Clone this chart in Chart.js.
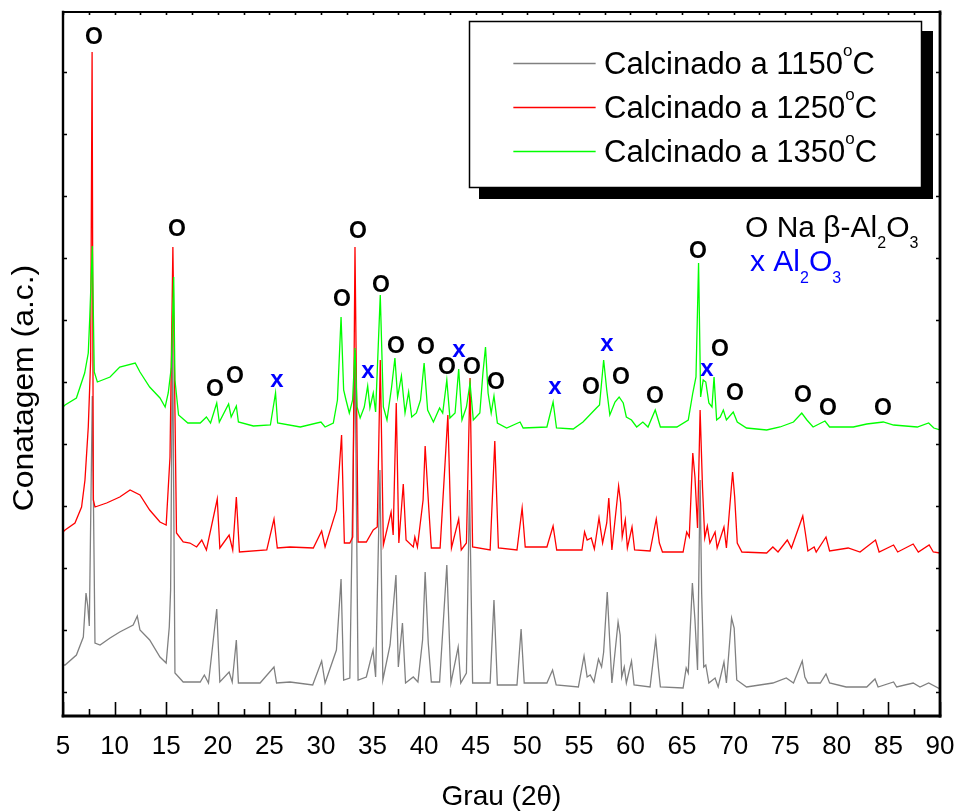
<!DOCTYPE html>
<html>
<head>
<meta charset="utf-8">
<title>DRX - Na beta-Al2O3</title>
<script src="https://cdn.jsdelivr.net/npm/chart.js@4.4.1/dist/chart.umd.min.js"></script>
<style>
  html, body { margin: 0; padding: 0; background: #fff; }
  canvas { display: block; }
</style>
</head>
<body>
<canvas id="xrd" width="957" height="811"></canvas>
<script>
const temps = ['1150', '1250', '1350'];
const colors = ['#808080', '#ff0000', '#00ff00'];

const gray1150 = [
  [5.0,51],[5.2,51],[6.3,61],[6.97,79],[7.23,123],[7.4,110],[7.55,90],[7.84,320],[8.1,73],[8.59,71],
  [9.56,78],[10.5,84],[11.8,91],[12.2,100],[12.46,86],[13.4,76],[14.4,59],[15.0,53],[15.3,89],[15.43,126],
  [15.62,386],[15.85,43],[16.65,34],
  [17.0,34],[18.3,34],[18.7,41],[19.1,33],[19.9,107],[20.2,34],[21.1,44],[21.4,34],[21.8,76],[22.0,33],
  [24.1,33],[25.45,49],[25.7,33],[27.0,34],[29.2,31],[30.07,55],[30.4,33],[31.5,66],[31.95,137],[32.2,36],
  [32.8,38],[33.3,366],[33.6,36],[34.4,39],[35.05,66],[35.3,39],[35.72,246],[36.0,36],[36.7,71],[37.27,141],
  [37.5,49],[37.9,93],[38.2,33],[38.95,39],[39.4,34],[39.85,76],[40.1,144],[40.4,73],[40.7,34],[41.5,34],
  [42.2,151],[42.6,33],[43.3,69],[43.55,33],[44.1,43],[44.4,226],[44.7,33],[46.4,33],[46.77,116],[47.1,31],
  [49.0,31],[49.4,87],[49.7,33],[51.9,33],[52.45,46],[52.8,31],[54.95,29],[55.5,60],[55.8,39],[56.1,41],
  [56.46,34],[56.9,57],[57.2,49],[57.4,64],[57.75,124],[57.95,83],[58.2,33],[58.8,94],[59.0,81],[59.15,39],
  [59.4,49],[59.6,33],[60.1,55],[60.35,31],[61.9,29],[62.45,77],[62.7,49],[62.9,29],[65.1,28],[65.4,48],
  [65.6,43],[66.0,133],[66.25,96],[66.5,46],[66.75,236],[66.9,123],[67.1,49],[67.3,51],[67.6,33],[68.2,38],
  [68.5,29],[69.06,54],[69.3,33],[69.8,98],[70.05,88],[70.3,36],[71.25,29],[73.8,33],[75.1,38],[75.8,33],
  [76.65,55],[76.9,39],[77.2,33],[78.4,33],[78.95,42],[79.3,33],[80.9,29],[82.9,29],[83.7,37],[84.0,29],
  [85.5,34],[85.8,29],[87.4,33],[88.06,29],[88.9,33],[90.0,27]
];

const red1250 = [
  [5.0,184],[5.2,186],[6.16,193],[6.8,209],[7.13,236],[7.45,289],[7.68,356],[7.82,664],[7.94,216],[8.1,209],
  [9.23,213],[10.5,219],[11.5,226],[12.46,221],[13.4,206],[14.4,194],[15.0,191],[15.37,259],[15.65,469],
  [16.0,183],[16.65,174],[17.3,173],[17.95,169],[18.45,176],
  [18.9,166],[19.95,217],[20.2,168],[21.1,181],[21.45,166],[21.8,219],[22.1,164],[24.75,166],[25.45,197],
  [25.77,168],[27.0,169],[29.26,168],[30.07,185],[30.4,169],[31.5,206],[32.0,281],[32.27,173],[32.8,173],
  [33.08,179],[33.3,469],[33.6,174],[34.4,174],[35.07,186],[35.46,189],[35.75,356],[36.05,171],[36.8,204],
  [37.0,181],[37.3,313],[37.55,173],[37.98,232],[38.25,176],[38.95,169],[39.1,179],[39.35,169],[39.9,216],
  [40.1,270],[40.45,208],[40.7,168],[41.55,168],[42.3,301],[42.65,168],[43.35,197],[43.6,166],[44.1,173],
  [44.45,338],[44.7,169],[46.4,166],[46.85,275],[47.2,168],[49.0,166],[49.5,208],[49.8,169],[51.9,169],
  [52.5,190],[52.85,166],[55.3,166],[55.55,184],[55.8,176],[56.2,178],[56.5,167],[56.95,198],[57.3,173],
  [57.7,193],[57.9,218],[58.2,166],[58.85,230],[59.05,213],[59.2,179],[59.5,196],[59.7,168],[60.15,189],
  [60.4,166],[61.9,165],[62.5,197],[62.8,173],[63.1,164],[65.1,164],[65.45,184],[65.7,179],[66.04,263],
  [66.25,239],[66.5,188],[66.75,306],[66.98,229],[67.2,178],[67.45,190],[67.7,173],[68.2,184],[68.4,168],
  [69.06,189],[69.3,168],[69.9,244],[70.1,219],[70.35,173],[70.8,164],[73.2,163],[73.8,169],[74.3,164],
  [75.2,176],[75.6,168],[76.7,200],[76.95,183],[77.2,165],[77.8,169],[78.0,164],[78.95,179],[79.3,165],
  [81.1,168],[82.25,164],[83.75,176],[84.1,164],[85.5,171],[85.9,164],[87.4,172],[87.9,164],[88.95,171],
  [89.35,164],[90.0,163]
];

const green1350 = [
  [5.0,309],[5.2,311],[6.3,318],[7.1,343],[7.45,363],[7.6,400],[7.84,470],[8.03,344],[8.33,334],[9.56,339],
  [10.5,349],[12.0,353],[12.46,344],[13.4,329],[14.4,318],[14.9,309],[15.2,323],[15.5,349],[15.73,439],
  [15.85,336],[16.2,301],[17.1,293],[18.3,293],[18.9,299],[19.3,293],[19.9,313],
  [20.15,294],[21.05,312],[21.3,299],[21.8,310],[22.0,294],[23.45,290],[25.1,291],[25.6,323],[25.8,293],
  [28.0,289],[30.0,294],[30.4,289],[31.2,293],[31.6,316],[31.95,399],[32.2,326],[32.43,316],[32.75,303],
  [33.07,316],[33.3,368],[33.5,309],[33.8,298],[34.2,309],[34.53,330],[34.75,308],[35.07,323],[35.3,304],
  [35.75,421],[36.05,309],[36.4,296],[36.85,329],[37.17,358],[37.43,319],[37.8,340],[38.15,303],[38.5,324],
  [38.8,299],[39.25,303],[39.65,316],[40.0,353],[40.34,306],[40.9,294],[41.5,308],[41.8,303],[42.2,336],
  [42.5,298],[43.0,303],[43.35,347],[43.67,296],[44.1,309],[44.45,333],[44.77,296],[45.4,303],[45.7,343],
  [45.95,369],[46.2,323],[46.5,303],[46.77,320],[47.1,293],[48.0,288],[49.3,294],[49.6,288],[51.9,289],
  [52.5,314],[52.83,288],[54.45,287],[55.4,294],[56.7,308],[57.0,311],[57.4,356],[57.7,326],[58.0,301],
  [58.5,314],[58.9,319],[59.3,313],[59.6,299],[60.1,296],[60.6,289],[61.2,294],[61.7,289],[62.4,306],
  [62.9,289],[64.5,289],[65.6,296],[66.04,323],[66.35,339],[66.6,453],[66.8,319],[67.05,336],[67.3,334],
  [67.6,313],[67.9,309],[68.1,339],[68.35,296],[68.7,299],[69.0,306],[69.3,296],[69.96,304],[70.35,294],
  [71.25,288],[73.2,286],[74.5,289],[75.8,294],[76.6,303],[77.1,296],[77.7,289],[78.85,295],[79.3,289],
  [81.6,289],[82.9,292],[84.5,294],[85.5,291],[87.8,289],[88.9,293],[89.4,288],[90.0,286]
];

// marcas do eixo y (sem rótulos no original)
const yTickValues = [24, 86, 148, 210, 272, 334, 396, 458, 520, 582, 644];

// identificação das fases: [2θ, altura]
const naMarks = [
  [8.00,678],[16.05,486],[19.73,326],[21.67,339],[32.04,416],[33.59,484],[35.82,430],[37.27,369],
  [40.18,368],[42.22,348],[44.64,348],[46.97,333],[56.17,328],[59.08,338],[62.38,319],[66.54,464],
  [68.68,366],[70.13,322],[76.72,320],[79.14,307],[84.47,307]
];
const alMarks = [
  [25.74,334],[34.56,343],[43.38,364],[52.68,327],[57.72,370],[67.42,345]
];

const FONT = "'Liberation Sans', Arial, Helvetica, sans-serif";

function toXY(arr) {
  return arr.map(p => ({ x: p[0], y: p[1] }));
}

// escreve pedaços de texto em sequência (sobrescrito/subscrito)
function drawParts(ctx, x, baseline, parts, color) {
  ctx.fillStyle = color;
  ctx.textAlign = 'left';
  ctx.textBaseline = 'alphabetic';
  parts.forEach(p => {
    ctx.font = p.size + 'px ' + FONT;
    ctx.fillText(p.t, x, baseline + (p.dy || 0));
    x += ctx.measureText(p.t).width;
  });
}

const xrdDecor = {
  id: 'xrdDecor',
  afterDatasetsDraw(chart) {
    const ctx = chart.ctx;
    const a = chart.chartArea;
    const xs = chart.scales.x;
    const ys = chart.scales.y;
    ctx.save();

    // marcas para dentro
    ctx.strokeStyle = '#000';
    ctx.lineWidth = 1.6;
    ctx.beginPath();
    xs.ticks.forEach(t => {
      const px = Math.round(xs.getPixelForValue(t.value)) + 0.5;
      const major = Math.abs(t.value % 5) < 1e-6;
      ctx.moveTo(px, a.bottom);
      ctx.lineTo(px, a.bottom - (major ? 14 : 7));
      ctx.moveTo(px, a.top);
      ctx.lineTo(px, a.top + 3);
    });
    ys.ticks.forEach(t => {
      const py = Math.round(ys.getPixelForValue(t.value)) + 0.5;
      ctx.moveTo(a.left, py);
      ctx.lineTo(a.left + 4, py);
      ctx.moveTo(a.right, py);
      ctx.lineTo(a.right - 4, py);
    });
    ctx.stroke();

    // moldura
    ctx.lineCap = 'square';
    ctx.lineWidth = 2;
    ctx.beginPath(); ctx.moveTo(a.left, a.top); ctx.lineTo(a.right, a.top); ctx.stroke();
    ctx.lineWidth = 2.4;
    ctx.beginPath(); ctx.moveTo(a.left, a.top); ctx.lineTo(a.left, a.bottom); ctx.stroke();
    ctx.lineWidth = 2.8;
    ctx.beginPath(); ctx.moveTo(a.left, a.bottom); ctx.lineTo(a.right, a.bottom); ctx.stroke();
    ctx.beginPath(); ctx.moveTo(a.right, a.top); ctx.lineTo(a.right, a.bottom); ctx.stroke();

    // picos identificados
    ctx.textAlign = 'center';
    ctx.textBaseline = 'middle';
    ctx.fillStyle = '#000';
    ctx.font = 'bold 23px ' + FONT;
    naMarks.forEach(m => ctx.fillText('O', xs.getPixelForValue(m[0]), ys.getPixelForValue(m[1])));
    ctx.fillStyle = '#0000ff';
    ctx.font = 'bold 24px ' + FONT;
    alMarks.forEach(m => ctx.fillText('x', xs.getPixelForValue(m[0]), ys.getPixelForValue(m[1]) - 2));

    // legenda com sombra
    ctx.fillStyle = '#000';
    ctx.fillRect(479, 31, 454, 168);
    ctx.fillStyle = '#fff';
    ctx.fillRect(469, 21, 453, 167);
    ctx.lineWidth = 1.5;
    ctx.strokeStyle = '#000';
    ctx.strokeRect(469.5, 21.5, 452, 166);
    chart.data.datasets.forEach((ds, i) => {
      const y = 63 + i * 44;
      ctx.strokeStyle = ds.borderColor;
      ctx.lineWidth = 1.3;
      ctx.beginPath();
      ctx.moveTo(514, y + 0.5);
      ctx.lineTo(595, y + 0.5);
      ctx.stroke();
      drawParts(ctx, 604, y + 11, [
        { t: 'Calcinado a ' + temps[i], size: 31 },
        { t: 'o', size: 17, dy: -18 },
        { t: 'C', size: 31 }
      ], '#000');
    });

    // legenda das fases
    drawParts(ctx, 745, 237, [
      { t: 'O Na \u03b2-Al', size: 30 },
      { t: '2', size: 16, dy: 11 },
      { t: 'O', size: 30 },
      { t: '3', size: 16, dy: 11 }
    ], '#000');
    drawParts(ctx, 750, 271, [
      { t: 'x Al', size: 30 },
      { t: '2', size: 16, dy: 12 },
      { t: 'O', size: 30 },
      { t: '3', size: 16, dy: 12 }
    ], '#0000ff');

    // títulos dos eixos
    ctx.fillStyle = '#000';
    ctx.textAlign = 'center';
    ctx.textBaseline = 'alphabetic';
    ctx.font = '28px ' + FONT;
    ctx.fillText('Grau (2\u03b8)', (a.left + a.right) / 2, 805);

    ctx.save();
    ctx.translate(33, 388);
    ctx.rotate(-Math.PI / 2);
    ctx.scale(1.1, 1);
    ctx.font = '29px ' + FONT;
    ctx.fillText('Conatagem (a.c.)', 0, 0);
    ctx.restore();

    ctx.restore();
  }
};

const series = [gray1150, red1250, green1350];

new Chart(document.getElementById('xrd'), {
  type: 'line',
  data: {
    datasets: series.map((s, i) => ({
      label: 'Calcinado a ' + temps[i] + '\u00b0C',
      data: toXY(s),
      borderColor: colors[i],
      backgroundColor: colors[i],
      borderWidth: 1.3,
      pointRadius: 0,
      tension: 0,
      order: 3 - i
    }))
  },
  options: {
    responsive: false,
    animation: false,
    layout: { padding: { left: 63, right: 17, top: 12, bottom: 0 } },
    plugins: {
      legend: { display: false },
      tooltip: { enabled: false }
    },
    scales: {
      x: {
        type: 'linear',
        min: 5,
        max: 90,
        grid: { display: false, drawTicks: false },
        border: { display: false },
        ticks: {
          stepSize: 2.5,
          autoSkip: false,
          maxRotation: 0,
          padding: 15,
          color: '#000',
          font: { family: FONT, size: 26 },
          callback: v => (Math.abs(v % 5) < 1e-6 ? v : '')
        },
        afterFit: s => {
          s.height = 95;
          s.paddingLeft = 0;
          s.paddingRight = 0;
        }
      },
      y: {
        type: 'linear',
        min: 0,
        max: 704,
        grid: { display: false, drawTicks: false },
        border: { display: false },
        ticks: { display: false },
        afterBuildTicks: s => { s.ticks = yTickValues.map(v => ({ value: v })); },
        afterFit: s => { s.width = 0; }
      }
    }
  },
  plugins: [xrdDecor]
});
</script>
</body>
</html>
